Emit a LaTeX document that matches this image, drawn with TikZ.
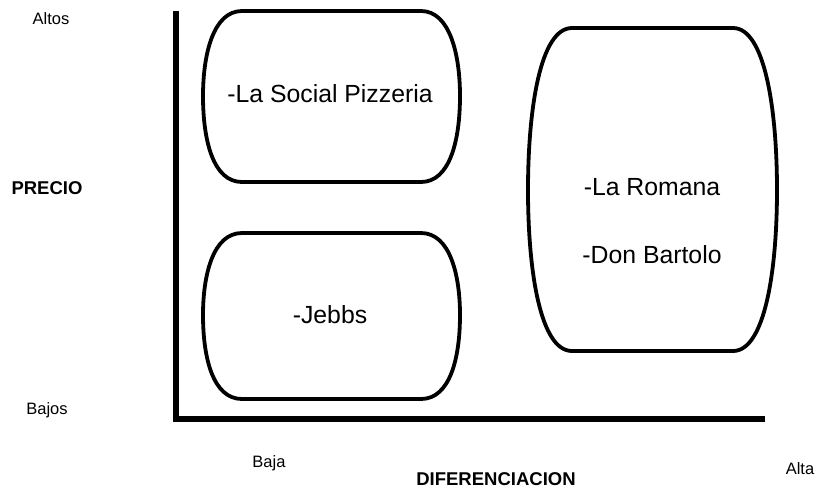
\documentclass[tikz,border=0pt]{standalone}
\usepackage{fontspec}
\setmainfont{Liberation Sans}
\begin{document}
\begin{tikzpicture}[x=1pt,y=-1pt,
  axis/.style={line width=6.5pt},
  barrel/.style={line width=3.8pt, line join=round},
  inner/.style={font=\fontsize{24.8}{28}\selectfont, inner sep=0pt},
  lbl/.style={font=\fontsize{16.5}{19}\selectfont, inner sep=0pt},
  blbl/.style={font=\bfseries\fontsize{18.5}{21}\selectfont, inner sep=0pt}]
\useasboundingbox (0,0) rectangle (817,488);
% axes
\coordinate (ytop) at (176,11);
\coordinate (orig) at (176,419);
\coordinate (xend) at (765,419);
\draw[axis] (ytop) -- (orig);
\draw[axis] (173,419) -- (xend);
% box 1
\draw[barrel] (242,11) -- (421,11)
  .. controls (450,11) and (460,55) .. (460,96)
  .. controls (460,140) and (450,182) .. (421,182)
  -- (242,182)
  .. controls (213,182) and (203,140) .. (203,96)
  .. controls (203,55) and (213,11) .. (242,11) -- cycle;
% box 2
\draw[barrel] (242,233) -- (421,233)
  .. controls (450,233) and (460,275) .. (460,315)
  .. controls (460,358) and (450,399) .. (421,399)
  -- (242,399)
  .. controls (213,399) and (203,358) .. (203,315)
  .. controls (203,275) and (213,233) .. (242,233) -- cycle;
% box 3
\draw[barrel] (572,28) -- (733,28)
  .. controls (765,28) and (777,110) .. (777,190)
  .. controls (777,270) and (765,351) .. (733,351)
  -- (572,351)
  .. controls (540,351) and (528,270) .. (528,190)
  .. controls (528,110) and (540,28) .. (572,28) -- cycle;
% texts
\node[inner] (t1) at (330,94) {-La Social Pizzeria};
\node[inner] (t2) at (330,315) {-Jebbs};
\node[inner] (t3) at (652,187) {-La Romana};
\node[inner] (t4) at (652,255) {-Don Bartolo};
\node[lbl] (altos) at (51,19) {Altos};
\node[blbl] (precio) at (47,188) {PRECIO};
\node[lbl] (bajos) at (47,410) {Bajos};
\node[lbl] (baja) at (269,463) {Baja};
\node[blbl] (dif) at (496,479) {DIFERENCIACION};
\node[lbl] (alta) at (800,469) {Alta};
\end{tikzpicture}
\end{document}
